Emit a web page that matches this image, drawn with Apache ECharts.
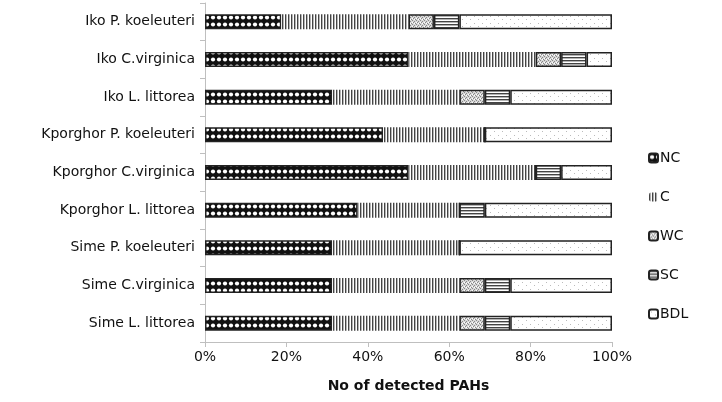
<!DOCTYPE html>
<html>
<head>
<meta charset="utf-8">
<script src="https://cdn.jsdelivr.net/npm/echarts@6/dist/echarts.min.js"></script>
<style>
  html, body { margin: 0; padding: 0; background: #fff; }
  #chart { width: 722px; height: 402px; }
</style>
</head>
<body>
<div id="chart"></div>
<script>
// categories, top to bottom
const sites = [
  'Iko P. koeleuteri', 'Iko C.virginica', 'Iko L. littorea',
  'Kporghor P. koeleuteri', 'Kporghor C.virginica', 'Kporghor L. littorea',
  'Sime P. koeleuteri', 'Sime C.virginica', 'Sime L. littorea'
]
// share of the detected PAHs (%)
const ncVals = [18.75, 50, 31.25, 43.75, 50, 37.5, 31.25, 31.25, 31.25]
const cVals = [31.25, 31.25, 31.25, 25, 31.25, 25, 31.25, 31.25, 31.25]
const wcVals = [6.25, 6.25, 6.25, 0, 0, 0, 0, 6.25, 6.25]
const scVals = [6.25, 6.25, 6.25, 0, 6.25, 6.25, 0, 6.25, 6.25]
const bdlVals = [37.5, 6.25, 25, 31.25, 12.5, 31.25, 37.5, 25, 25]
const xTicks = [0, 20, 40, 60, 80, 100]

function makePattern(w, h, draw) {
  const c = document.createElement('canvas')
  c.width = w
  c.height = h
  const ctx = c.getContext('2d')
  draw(ctx)
  return { image: c, repeat: 'repeat' }
}

const ncFill = makePattern(6, 7, (ctx) => {
  ctx.fillStyle = '#111'
  ctx.fillRect(0, 0, 6, 7)
  ctx.fillStyle = '#fff'
  ctx.beginPath()
  ctx.arc(3, 3.5, 2.1, 0, Math.PI * 2)
  ctx.fill()
})
const cFill = makePattern(3, 3, (ctx) => {
  ctx.fillStyle = '#fff'
  ctx.fillRect(0, 0, 3, 3)
  ctx.fillStyle = '#444'
  ctx.fillRect(0, 0, 1.4, 3)
})
const wcFill = makePattern(4, 4, (ctx) => {
  ctx.fillStyle = '#d8d8d8'
  ctx.fillRect(0, 0, 4, 4)
  ctx.fillStyle = '#888'
  ctx.fillRect(0, 0, 1, 1)
  ctx.fillRect(2, 1, 1, 1)
  ctx.fillRect(1, 2, 1, 1)
  ctx.fillRect(3, 3, 1, 1)
  ctx.fillStyle = '#fff'
  ctx.fillRect(2, 3, 1, 1)
  ctx.fillRect(0, 2, 1, 1)
})
const scFill = makePattern(3, 3, (ctx) => {
  ctx.fillStyle = '#fff'
  ctx.fillRect(0, 0, 3, 3)
  ctx.fillStyle = '#444'
  ctx.fillRect(0, 0, 3, 1.4)
})
const bdlFill = makePattern(8, 7, (ctx) => {
  ctx.fillStyle = '#fff'
  ctx.fillRect(0, 0, 8, 7)
  ctx.fillStyle = '#bbb'
  ctx.fillRect(2, 2, 1, 1)
  ctx.fillRect(6, 5, 1, 1)
})

const chart = echarts.init(document.getElementById('chart'))
const font = '"DejaVu Sans", sans-serif'

function bar(name, data, fill, border) {
  return {
    name: name,
    type: 'bar',
    stack: 'total',
    data: data,
    barWidth: 15,
    itemStyle: {
      color: fill,
      borderColor: border ? '#222' : 'transparent',
      borderWidth: border ? 1.5 : 0
    }
  }
}

const option = {
  animation: false,
  textStyle: { fontFamily: font },
  grid: { left: 205, right: 110, top: 3, bottom: 60 },
  legend: {
    orient: 'vertical',
    left: 643,
    top: 146,
    itemWidth: 9,
    itemHeight: 9,
    itemGap: 25,
    textStyle: { fontSize: 14, color: '#111', fontFamily: font, padding: [0, 0, 0, -3] },
    data: ['NC', 'C', 'WC', 'SC', 'BDL']
  },
  xAxis: {
    type: 'value',
    min: 0,
    max: 100,
    interval: 20,
    name: 'No of detected PAHs',
    nameLocation: 'middle',
    nameGap: 37,
    nameTextStyle: { fontSize: 14, fontWeight: 'bold', color: '#111', fontFamily: font },
    axisLine: { show: true, lineStyle: { color: '#bfbfbf' } },
    axisTick: { show: true, length: 5, lineStyle: { color: '#bfbfbf' } },
    splitLine: { show: false },
    axisLabel: {
      fontSize: 14,
      color: '#111',
      margin: 8,
      formatter: (v) => (xTicks.indexOf(v) >= 0 ? v + '%' : '')
    }
  },
  yAxis: {
    type: 'category',
    inverse: true,
    data: sites,
    axisLine: { show: true, lineStyle: { color: '#bfbfbf' } },
    axisTick: { show: true, length: 5, inside: false, lineStyle: { color: '#bfbfbf' } },
    axisLabel: { fontSize: 14, color: '#111', margin: 10 }
  },
  series: [
    bar('NC', ncVals, ncFill, true),
    bar('C', cVals, cFill, false),
    bar('WC', wcVals, wcFill, true),
    bar('SC', scVals, scFill, true),
    bar('BDL', bdlVals, bdlFill, true)
  ]
}
chart.setOption(option)
</script>
</body>
</html>
